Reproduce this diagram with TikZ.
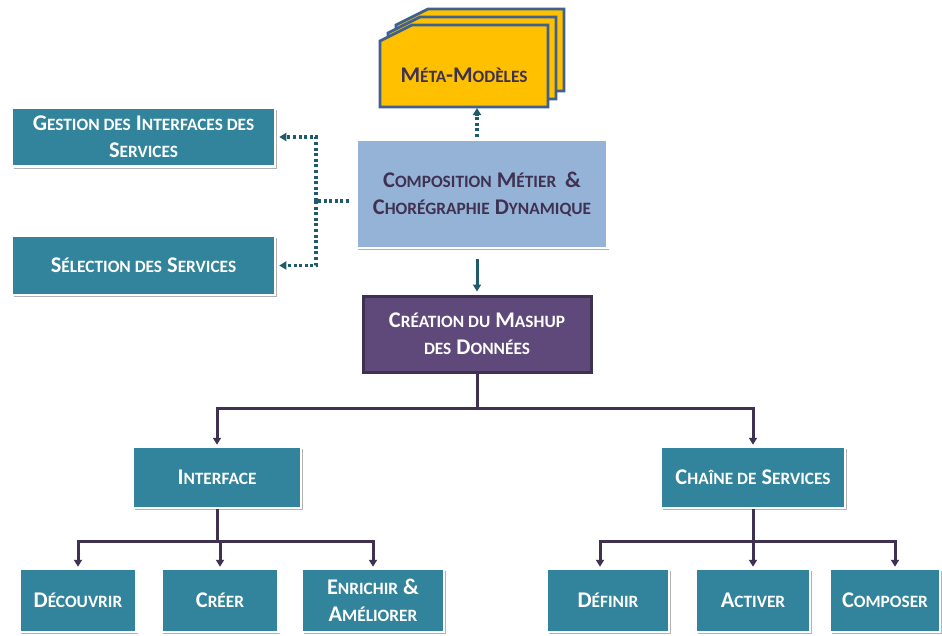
\documentclass[tikz,border=0pt]{standalone}
\usepackage{fontspec}
\setmainfont{Carlito}
\usetikzlibrary{arrows.meta,shadows}
\definecolor{teal1}{HTML}{31849B}
\definecolor{lblue}{HTML}{95B3D7}
\definecolor{purp}{HTML}{5F497A}
\definecolor{dpurp}{HTML}{3F3151}
\definecolor{yel}{HTML}{FFC000}
\definecolor{sblue}{HTML}{3E6190}
\definecolor{dteal}{HTML}{1F5B6B}
\newcommand\lc{\fontsize{17.3}{27}\selectfont}
\newcommand\bigfs{\fontsize{22.4}{27}\selectfont\bfseries}
\tikzset{
  sh/.style={drop shadow={shadow xshift=1.5pt,shadow yshift=-2pt,fill=black,opacity=0.3}},
  tbox/.style={sh,fill=teal1,draw=white,line width=2.5pt,text=white,font=\bigfs,align=center,inner sep=0pt},
  cbox/.style={sh,fill=lblue,draw=white,line width=2.5pt,text=dpurp,font=\bigfs,align=center,inner sep=0pt},
  pbox/.style={sh,fill=purp,draw=dpurp,line width=3pt,text=white,font=\bigfs,align=center,inner sep=0pt},
  stackbox/.style={fill=yel,draw=sblue,line width=2.7pt,line join=miter},
  dotarrow/.style={draw=dteal,line width=3.3pt,dash pattern=on 3pt off 2.6pt},
  tipd/.style={-{Triangle[length=7pt,width=8pt]}},
  treeline/.style={draw=dpurp,line width=3pt},
}
\begin{document}
\begin{tikzpicture}[x=1pt,y=-1pt]
\useasboundingbox (0,0) rectangle (942,635);
% stack of meta-models
\foreach \s in {16,8,0}{
  \path[stackbox,shift={(\s,-\s)}] (380,107)--(380,41)--(412,25)--(548,25)--(548,107)--cycle;
}
\node[text=dpurp,font=\bigfs] (meta) at (464,75) {M{\lc ÉTA}-M{\lc ODÈLES}};
\coordinate (metab) at (477,108);
% central box
\node[cbox,minimum width=251pt,minimum height=108pt] (comp) at (482,194)
  {C{\lc OMPOSITION} M{\lc ÉTIER} \,\&\\C{\lc HORÉGRAPHIE} D{\lc YNAMIQUE}};
% left boxes
\node[tbox,minimum width=263pt,minimum height=59pt] (gest) at (143.5,137)
  {G{\lc ESTION DES} I{\lc NTERFACES DES}\\S{\lc ERVICES}};
\node[tbox,minimum width=263pt,minimum height=59pt] (sel) at (143.5,265.5)
  {S{\lc ÉLECTION DES} S{\lc ERVICES}};
% creation box
\node[pbox,minimum width=228pt,minimum height=76pt] (crea) at (477,334)
  {C{\lc RÉATION DU} M{\lc ASHUP}\\{\lc DES} D{\lc ONNÉES}};
% level 2
\node[tbox,minimum width=168pt,minimum height=61pt] (iface) at (217,477.5) {I{\lc NTERFACE}};
\node[tbox,minimum width=184pt,minimum height=61pt] (chain) at (753,477.5) {C{\lc HAÎNE DE} S{\lc ERVICES}};
% level 3
\node[tbox,minimum width=117pt,minimum height=63pt] (dec) at (78,600.5) {D{\lc ÉCOUVRIR}};
\node[tbox,minimum width=117pt,minimum height=63pt] (cre) at (220,600.5) {C{\lc RÉER}};
\node[tbox,minimum width=142pt,minimum height=63pt] (enr) at (373,600.5) {E{\lc NRICHIR} \&\\A{\lc MÉLIORER}};
\node[tbox,minimum width=122pt,minimum height=63pt] (def) at (608,600.5) {D{\lc ÉFINIR}};
\node[tbox,minimum width=114pt,minimum height=63pt] (act) at (753,600.5) {A{\lc CTIVER}};
\node[tbox,minimum width=110pt,minimum height=63pt] (cmp) at (885,600.5) {C{\lc OMPOSER}};
% dotted connectors
\draw[dotarrow,tipd] (477,137) -- (metab);
\coordinate (dj) at (316,201);
\draw[dotarrow] (349,201) -- (dj);
\draw[dotarrow,tipd] (dj) |- ([xshift=3pt]gest.east);
\draw[dotarrow,tipd] (dj) |- ([xshift=3pt]sel.east);
% solid arrow comp -> crea
\draw[draw=dteal,line width=3pt,tipd] (477,259) -- ([yshift=3pt]crea.north);
% tree
\coordinate (cb) at (477,408);
\draw[treeline] (crea.south) -- (cb);
\draw[treeline,tipd] (cb) -| ([yshift=1pt]iface.north);
\draw[treeline,tipd] (cb) -| ([yshift=1pt]chain.north);
\coordinate (ib) at (217,541);
\draw[treeline] (iface.south) -- (ib);
\draw[treeline,tipd] (ib) -| ([yshift=1pt]dec.north);
\draw[treeline,tipd] (ib) -| ([yshift=1pt]enr.north);
\draw[treeline,tipd] (ib) -| ([yshift=1pt]cre.north);
\coordinate (chb) at (753,541);
\draw[treeline] (chain.south) -- (chb);
\draw[treeline,tipd] (chb) -| ([xshift=-8pt,yshift=1pt]def.north);
\draw[treeline,tipd] (chb) -| ([xshift=10pt,yshift=1pt]cmp.north);
\draw[treeline,tipd] (chb) -- ([yshift=1pt]act.north);
\end{tikzpicture}
\end{document}
